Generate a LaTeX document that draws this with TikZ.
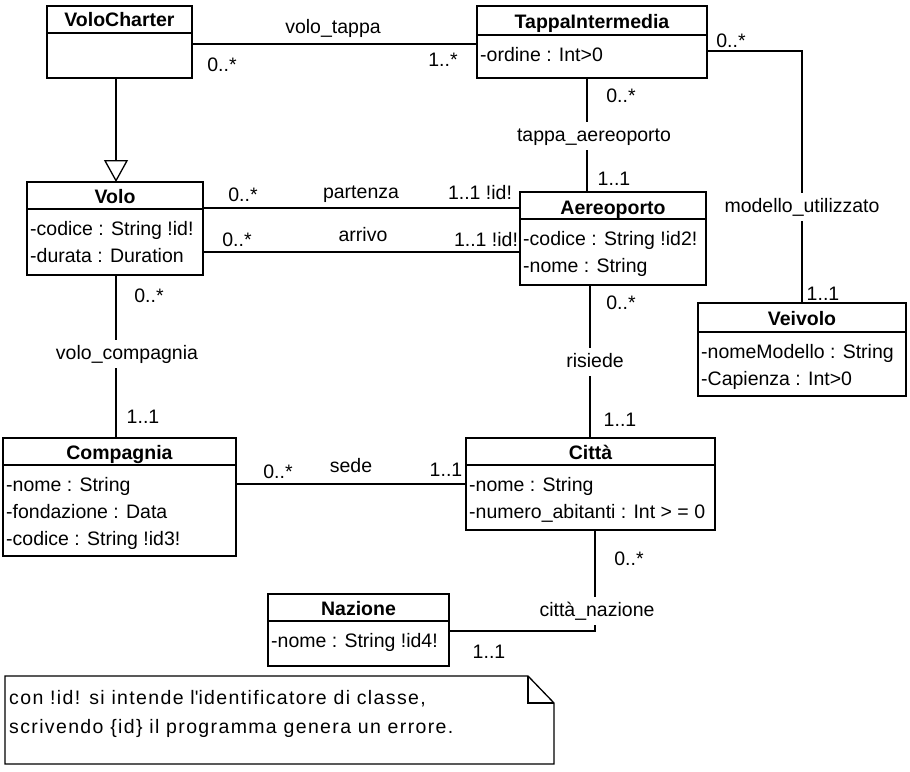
\documentclass[tikz,border=0pt]{standalone}
\usepackage{fontspec}
\setmainfont{Liberation Sans}
\usetikzlibrary{arrows.meta}
\newcommand\fsz{\fontsize{19.5}{23}\selectfont}
\begin{document}
\begin{tikzpicture}[x=1pt,y=-1pt,
  cls/.style={draw, line width=2.6pt, anchor=north west, inner sep=0pt, outer sep=0pt},
  dv/.style={line width=2.6pt},
  hd/.style={font=\fsz\bfseries, inner sep=0pt, text height=16pt, text depth=2pt},
  attr/.style={font=\fsz, anchor=west, inner sep=0pt, text height=16pt, text depth=2pt},
  conn/.style={line width=1.3pt},
  lb/.style={font=\fsz, inner sep=0pt, text height=16pt, text depth=2pt},
  gl/.style={font=\fsz, fill=white, inner xsep=2pt, inner ysep=5pt, text height=14pt, text depth=4pt},
  notetext/.style={font=\fsz\addfontfeature{LetterSpace=7}, anchor=west, inner sep=0pt, text height=16pt, text depth=2pt}]
\useasboundingbox (0,0) rectangle (910,771);

% ---------- classes ----------
\node[cls, minimum width=145pt, minimum height=72pt] (vc) at (47,6) {};
\draw[dv] (vc.west |- 0,33) -- (vc.east |- 0,33);
\node[hd] (vct) at (vc.center |- 0,20) {VoloCharter};

\node[cls, minimum width=230pt, minimum height=72pt] (ti) at (477,6) {};
\draw[dv] (ti.west |- 0,35) -- (ti.east |- 0,35);
\node[hd] (tit) at (ti.center |- 0,21) {TappaIntermedia};
\node[attr] (tia1) at (480,54) {-ordine : Int>0};

\node[cls, minimum width=176pt, minimum height=93pt] (volo) at (27,182) {};
\draw[dv] (volo.west |- 0,209) -- (volo.east |- 0,209);
\node[hd] (volot) at (volo.center |- 0,196) {Volo};
\node[attr] (voloa1) at (30,228) {-codice : String !id!};
\node[attr] (voloa2) at (30,255) {-durata : Duration};

\node[cls, minimum width=186pt, minimum height=93pt] (aero) at (520,192) {};
\draw[dv] (aero.west |- 0,219) -- (aero.east |- 0,219);
\node[hd] (aerot) at (aero.center |- 0,207) {Aereoporto};
\node[attr] (aeroa1) at (523,238) {-codice : String !id2!};
\node[attr] (aeroa2) at (523,265) {-nome : String};

\node[cls, minimum width=208pt, minimum height=93pt] (vei) at (698,303) {};
\draw[dv] (vei.west |- 0,332) -- (vei.east |- 0,332);
\node[hd] (veit) at (vei.center |- 0,318) {Veivolo};
\node[attr] (veia1) at (701,351) {-nomeModello : String};
\node[attr] (veia2) at (701,378) {-Capienza : Int>0};

\node[cls, minimum width=233pt, minimum height=118pt] (comp) at (3,438) {};
\draw[dv] (comp.west |- 0,465) -- (comp.east |- 0,465);
\node[hd] (compt) at (comp.center |- 0,452) {Compagnia};
\node[attr] (compa1) at (6,484) {-nome : String};
\node[attr] (compa2) at (6,511) {-fondazione : Data};
\node[attr] (compa3) at (6,538) {-codice : String !id3!};

\node[cls, minimum width=249pt, minimum height=92pt] (citta) at (466,438) {};
\draw[dv] (citta.west |- 0,465) -- (citta.east |- 0,465);
\node[hd] (cittat) at (citta.center |- 0,452) {Città};
\node[attr] (cittaa1) at (469,484) {-nome : String};
\node[attr] (cittaa2) at (469,511) {-numero\_abitanti : Int > = 0};

\node[cls, minimum width=181pt, minimum height=72pt] (naz) at (268,594) {};
\draw[dv] (naz.west |- 0,621) -- (naz.east |- 0,621);
\node[hd] (nazt) at (naz.center |- 0,608) {Nazione};
\node[attr] (naza1) at (271,640) {-nome : String !id4!};

% ---------- connectors ----------
% generalization
\draw[conn, -{Triangle[open, length=22pt, width=24pt]}] (vc.south -| 116,0) -- (volo.north -| 116,0);

% volo_tappa
\draw[conn] (vc.east |- 0,44) -- (ti.west |- 0,44);
\node[lb] (lvt) at (333,26) {volo\_tappa};
\node[lb] (lvt1) at (222,64) {0..*};
\node[lb] (lvt2) at (443,59) {1..*};

% modello_utilizzato
\draw[conn] (ti.east |- 0,51) -| (vei.north -| 802,0);
\node[gl] (lmu) at (802,207) {modello\_utilizzato};
\node[lb] (lmu1) at (731,40) {0..*};
\node[lb] (lmu2) at (823,293) {1..1};

% tappa_aereoporto
\draw[conn] (ti.south -| 587,0) -- (aero.north -| 587,0);
\node[gl] (lta) at (594,136) {tappa\_aereoporto};
\node[lb] (lta1) at (621,95) {0..*};
\node[lb] (lta2) at (614,178) {1..1};

% partenza
\draw[conn] (volo.east |- 0,208) -- (aero.west |- 0,208);
\node[lb] (lpa) at (361,191) {partenza};
\node[lb] (lpa1) at (243,194) {0..*};
\node[lb] (lpa2) at (480,192) {1..1 !id!};

% arrivo
\draw[conn] (volo.east |- 0,252) -- (aero.west |- 0,252);
\node[lb] (lar) at (363,234) {arrivo};
\node[lb] (lar1) at (237,239) {0..*};
\node[lb] (lar2) at (486,239) {1..1 !id!};

% volo_compagnia
\draw[conn] (volo.south -| 116,0) -- (comp.north -| 116,0);
\node[gl] (lvc) at (127,354) {volo\_compagnia};
\node[lb] (lvc1) at (149,295) {0..*};
\node[lb] (lvc2) at (143,416) {1..1};

% sede
\draw[conn] (comp.east |- 0,484) -- (citta.west |- 0,484);
\node[lb] (lse) at (351,465) {sede};
\node[lb] (lse1) at (278,471) {0..*};
\node[lb] (lse2) at (446,469) {1..1};

% risiede
\draw[conn] (aero.south -| 590,0) -- (citta.north -| 590,0);
\node[gl] (lri) at (595,362) {risiede};
\node[lb] (lri1) at (621,302) {0..*};
\node[lb] (lri2) at (620,419) {1..1};

% citta_nazione
\draw[conn] (citta.south -| 595,0) |- (naz.east |- 0,631);
\node[gl] (lcn) at (597,611) {città\_nazione};
\node[lb] (lcn1) at (629,558) {0..*};
\node[lb] (lcn2) at (489,651) {1..1};

% ---------- note ----------
\draw[conn] (5,676) -- (528,676) -- (554,703) -- (554,764) -- (5,764) -- cycle;
\draw[conn] (528,676) |- (554,703);
\node[notetext] (nt1) at (9,697) {con !id! si intende l\textquotesingle identificatore di classe,};
\node[notetext] (nt2) at (9,726) {scrivendo \{id\} il programma genera un errore.};
\end{tikzpicture}
\end{document}
